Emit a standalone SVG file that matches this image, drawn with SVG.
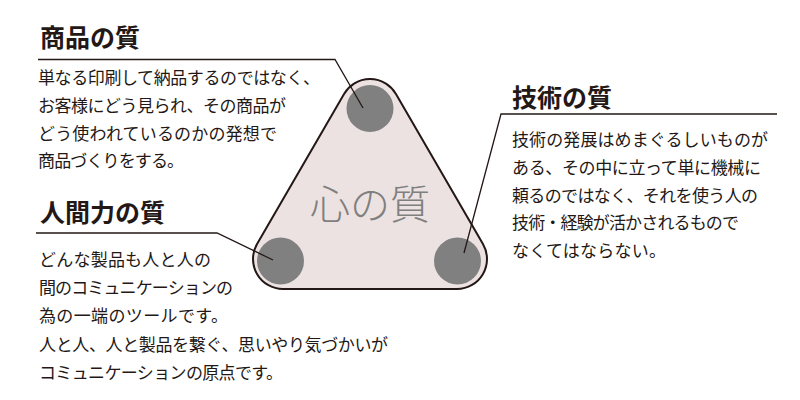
<svg xmlns="http://www.w3.org/2000/svg" width="800" height="400" viewBox="0 0 800 400">
<style>
.h{font-family:"Noto Sans CJK JP","Noto Sans CJK SC",sans-serif;font-weight:700;font-size:25px;fill:#231815}
.b{font-family:"Noto Sans CJK JP","Noto Sans CJK SC",sans-serif;font-weight:400;font-size:17px;fill:#231815}
.c{font-family:"Liberation Serif","Noto Sans CJK JP",serif;font-weight:300;font-size:40px;fill:#7f7f7f}
.dot{fill:#808080}
.ln{fill:none;stroke:#231815;stroke-width:1.3}
</style>
<rect width="800" height="400" fill="#ffffff"/>
<g id="heart">
<path d="M 344.05 93.95 A 30 30 0 0 1 395.95 93.95 L 482.95 243.95 A 30 30 0 0 1 457 289 L 283 289 A 30 30 0 0 1 257.05 243.95 Z" fill="#ede2e2" stroke="#231815" stroke-width="2"/>
<text class="c" x="370" y="219" text-anchor="middle">心の質</text>
</g>
<g id="dot-product"><circle class="dot" cx="370" cy="108.5" r="23.5"/></g>
<g id="dot-human"><circle class="dot" cx="280.5" cy="261" r="23.5"/></g>
<g id="dot-tech"><circle class="dot" cx="457.5" cy="261" r="23.5"/></g>
<g id="connectors">
<polyline class="ln" points="38,59.5 335,59.5 363,108"/>
<polyline class="ln" points="36,233 217,233 273,260"/>
<polyline class="ln" points="777,114 501,114 464,253"/>
</g>
<g id="product">
<text class="h" x="40" y="47">商品の質</text>
<text class="b" x="38" y="84" textLength="282" lengthAdjust="spacing">単なる印刷して納品するのではなく、</text>
<text class="b" x="38" y="112" textLength="248" lengthAdjust="spacing">お客様にどう見られ、その商品が</text>
<text class="b" x="38" y="140" textLength="239" lengthAdjust="spacing">どう使われているのかの発想で</text>
<text class="b" x="38" y="167" textLength="146" lengthAdjust="spacing">商品づくりをする。</text>
</g>
<g id="human">
<text class="h" x="40" y="221.5">人間力の質</text>
<text class="b" x="39" y="265.5" textLength="172" lengthAdjust="spacing">どんな製品も人と人の</text>
<text class="b" x="39" y="294" textLength="194" lengthAdjust="spacing">間のコミュニケーションの</text>
<text class="b" x="39" y="322" textLength="189" lengthAdjust="spacing">為の一端のツールです。</text>
<text class="b" x="39" y="350.5" textLength="349" lengthAdjust="spacing">人と人、人と製品を繋ぐ、思いやり気づかいが</text>
<text class="b" x="39" y="379" textLength="244" lengthAdjust="spacing">コミュニケーションの原点です。</text>
</g>
<g id="tech">
<text class="h" x="512" y="106.5">技術の質</text>
<text class="b" x="512" y="145.5" textLength="256" lengthAdjust="spacing">技術の発展はめまぐるしいものが</text>
<text class="b" x="512" y="174" textLength="249" lengthAdjust="spacing">ある、その中に立って単に機械に</text>
<text class="b" x="512" y="202" textLength="246" lengthAdjust="spacing">頼るのではなく、それを使う人の</text>
<text class="b" x="512" y="229" textLength="227" lengthAdjust="spacing">技術・経験が活かされるもので</text>
<text class="b" x="512" y="257" textLength="154" lengthAdjust="spacing">なくてはならない。</text>
</g>
</svg>
